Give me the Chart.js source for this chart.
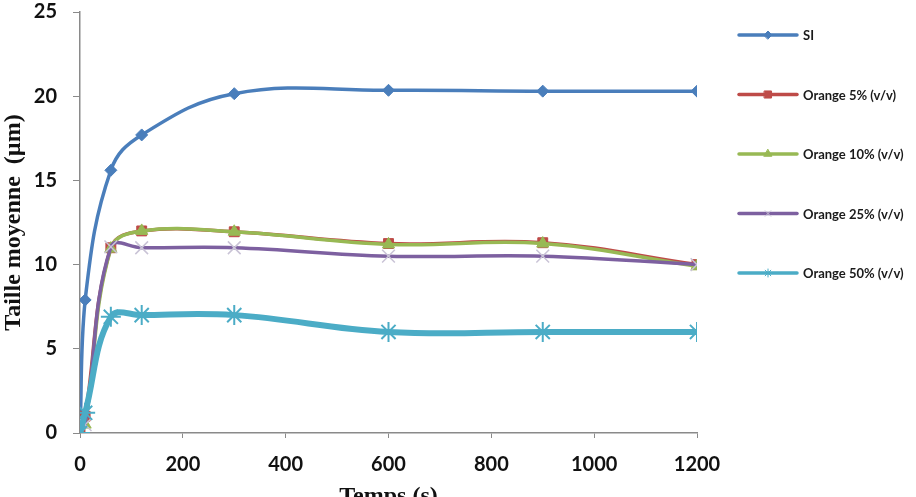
<!DOCTYPE html>
<html>
<head>
<meta charset="utf-8">
<script src="https://cdn.jsdelivr.net/npm/chart.js@4.4.1/dist/chart.umd.min.js"></script>
<style>
  html, body { margin: 0; padding: 0; background: #fff; overflow: hidden; }
  #wrap { width: 916px; height: 512px; position: relative; }
</style>
</head>
<body>
<div id="wrap"><canvas id="grafTaille"></canvas></div>
<script>
// ── Données ──
const temps = [0, 10, 60, 120, 300, 600, 900, 1200];
const tailleSI = [0, 7.9, 15.6, 17.7, 20.15, 20.35, 20.3, 20.3];
const tailleOr5 = [0, 1.0, 11.0, 12.0, 11.95, 11.25, 11.3, 10.0];
const tailleOr10 = [0, 0.5, 10.95, 12.0, 11.95, 11.2, 11.25, 9.9];
const tailleOr25 = [0, 0.5, 11.05, 11.0, 11.0, 10.5, 10.5, 10.0];
const tailleOr50 = [0, 1.2, 6.9, 7.0, 7.0, 6.0, 6.0, 6.0];
const nomsSeries = ['SI', 'Orange 5% (v/v)', 'Orange 10% (v/v)', 'Orange 25% (v/v)', 'Orange 50% (v/v)'];
const ticksX = [0, 200, 400, 600, 800, 1000, 1200];
const ticksY = [0, 5, 10, 15, 20, 25];

const pts = vals => temps.map((t, i) => ({ x: t, y: vals[i] }));

const series = [
  { data: tailleSI, color: '#4A7EBB', width: 3.5, style: 'rectRot', r: 6, fill: '#4A7EBB', bw: 1, lr: 4, order: 4 },
  { data: tailleOr5, color: '#BE4B48', width: 3.5, style: 'rect', r: 7, fill: '#BE4B48', bw: 1, lr: 5, order: 3 },
  { data: tailleOr10, color: '#98B954', width: 3.5, style: 'triangle', r: 7, fill: '#98B954', bw: 1, lr: 4.5, order: 2 },
  { data: tailleOr25, color: '#7D60A0', width: 3.5, style: 'crossRot', r: 9, fill: 'transparent', bw: 1.5, border: '#C9C3D6', lr: 4, order: 1 },
  { data: tailleOr50, color: '#4BACC6', width: 6, style: 'star', r: 10, fill: 'transparent', bw: 2, border: '#4BACC6', lr: 4, order: 0 }
];

// ── Légende dessinée à droite ──
const legendeDroite = {
  id: 'legendeDroite',
  afterDraw(chart) {
    const ctx = chart.ctx;
    ctx.save();
    series.forEach((s, i) => {
      const y = 35 + i * 59.5;
      ctx.strokeStyle = s.color;
      ctx.lineWidth = 3.5;
      ctx.lineCap = 'round';
      ctx.beginPath();
      ctx.moveTo(739, y);
      ctx.lineTo(797, y);
      ctx.stroke();
      ctx.fillStyle = s.fill;
      ctx.strokeStyle = s.border || s.color;
      ctx.lineWidth = 1;
      Chart.helpers.drawPoint(ctx, { pointStyle: s.style, radius: s.lr, rotation: 0, borderWidth: 1 }, 768, y);
      ctx.fillStyle = '#1a1a1a';
      ctx.font = 'bold 13px Lato';
      ctx.textBaseline = 'middle';
      ctx.fillText(nomsSeries[i], 803, y + 1);
    });
    ctx.restore();
  }
};

new Chart(document.getElementById('grafTaille'), {
  type: 'line',
  data: {
    datasets: series.map((s, i) => ({
      label: nomsSeries[i],
      data: pts(s.data),
      borderColor: s.color,
      borderWidth: s.width,
      tension: 0.4,
      pointStyle: s.style,
      pointRadius: s.r,
      pointBackgroundColor: s.fill,
      pointBorderColor: s.border || s.color,
      pointBorderWidth: s.bw,
      order: s.order,
      fill: false
    }))
  },
  options: {
    responsive: true,
    maintainAspectRatio: false,
    animation: false,
    layout: { padding: { left: 0, right: 219, top: 12, bottom: 0 } },
    plugins: { legend: { display: false }, tooltip: { enabled: false } },
    scales: {
      x: {
        type: 'linear',
        min: 0, max: 1200,
        afterBuildTicks: axis => { axis.ticks = ticksX.map(v => ({ value: v })); },
        afterFit: axis => { axis.height = 512 - 433; },
        grid: { drawOnChartArea: false, drawTicks: true, tickLength: 5, color: '#8A8A8A' },
        border: { color: '#8A8A8A', width: 1.5 },
        ticks: { color: '#111', padding: 15, callback: v => String(v),
                 font: { family: 'Lato', weight: 'bold', size: 20 } },
        title: { display: true, text: 'Temps (s)', color: '#111', padding: { top: 0, bottom: 1 },
                 font: { family: 'Liberation Serif', weight: 'bold', size: 24 } }
      },
      y: {
        min: 0, max: 25,
        afterBuildTicks: axis => { axis.ticks = ticksY.map(v => ({ value: v })); },
        afterFit: axis => { axis.width = 80; axis.paddingTop = 0; axis.paddingBottom = 0; },
        grid: { drawOnChartArea: false, drawTicks: true, tickLength: 7, color: '#8A8A8A' },
        border: { color: '#8A8A8A', width: 1.5 },
        ticks: { color: '#111', padding: 16, callback: v => String(v),
                 font: { family: 'Lato', weight: 'bold', size: 20 } },
        title: { display: true, text: 'Taille moyenne  (µm)', color: '#111', padding: { top: -1, bottom: 0 },
                 font: { family: 'Liberation Serif', weight: 'bold', size: 24 } }
      }
    }
  },
  plugins: [legendeDroite]
});
</script>
</body>
</html>
